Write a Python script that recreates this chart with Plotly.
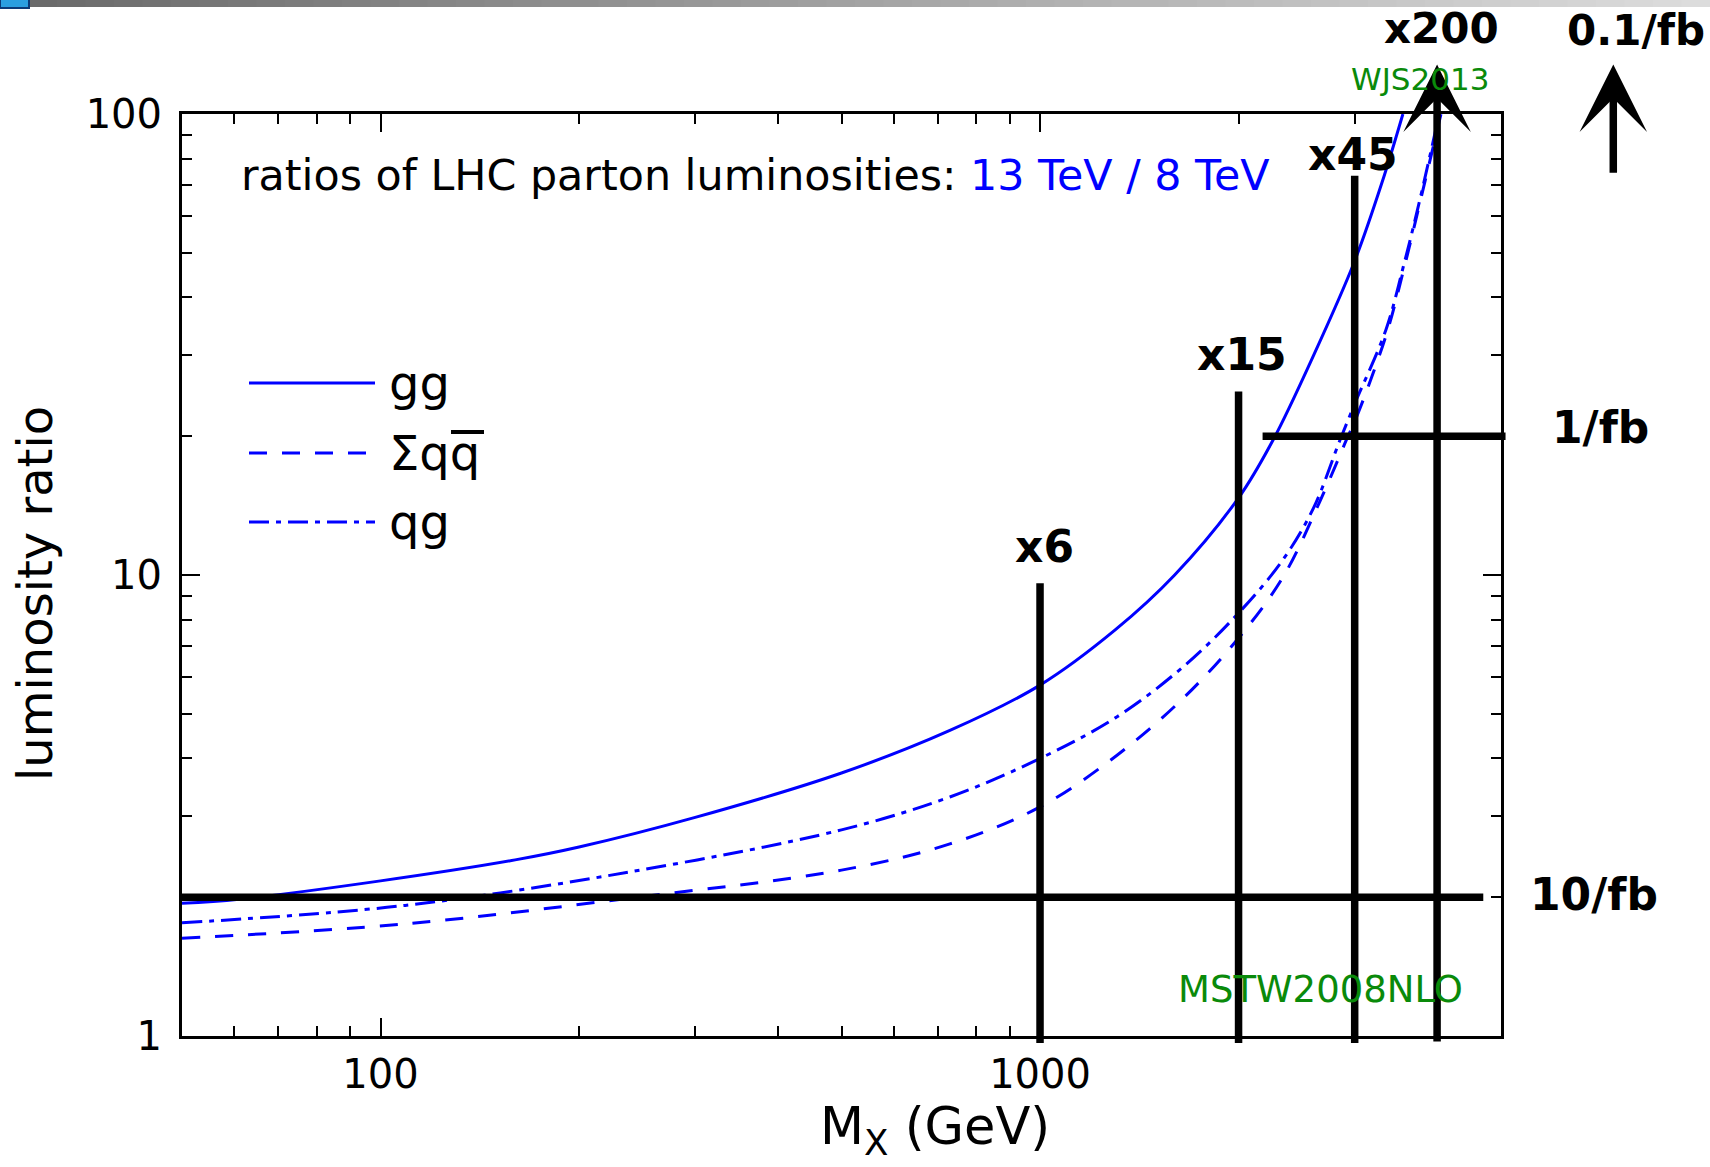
import math
import plotly.graph_objects as go

# ---------------- data ----------------
mass_gg = [50, 61, 100, 160, 200, 300, 500, 730, 1000, 1300, 1600, 2000, 2255, 2600, 3000, 3300, 3550]
ratio_gg = [1.94, 1.98, 2.17, 2.41, 2.57, 2.98, 3.72, 4.6, 5.77, 7.6, 10.0, 14.7, 19.6, 30.0, 48.0, 71, 100]

mass_qq = [50, 109, 245, 500, 730, 1000, 1307, 1648, 2000, 2336, 2660, 2931, 3000, 3345, 3560, 3765, 4055]
ratio_qq = [1.63, 1.75, 2.0, 2.29, 2.61, 3.14, 4.06, 5.4, 7.3, 9.9, 14.5, 20, 21.5, 33, 46, 64, 100]

mass_qg = [50, 109, 239, 500, 730, 1000, 1307, 1648, 2000, 2336, 2600, 2845, 3000, 3345, 3560, 3765, 4030]
ratio_qg = [1.76, 1.92, 2.27, 2.8, 3.30, 4.0, 4.92, 6.32, 8.27, 10.8, 14.0, 19.5, 23.5, 34, 47, 65, 100]

series_names = ["gg", "Σqq", "qg"]

# hand-drawn annotations
mark_mass = [1000, 2000, 3000]
mark_top = [9.6, 25.0, 73.5]
mark_labels = ["x6", "x15", "x45"]
arrow_mass = 4000
arrow_top = 128
arrow_label = "x200"
lumi_10fb_level = 2.0
lumi_10fb_span = [50, 4700]
lumi_1fb_level = 20.0
lumi_1fb_span = [2175, 5080]
lumi_01fb_mass = 7400
lumi_01fb_span = [74, 128]
lumi_labels = ["10/fb", "1/fb", "0.1/fb"]

x_major = [100, 1000]
x_minor = [60, 70, 80, 90, 200, 300, 400, 500, 600, 700, 800, 900, 2000, 3000, 4000]
y_major = [1, 10, 100]
y_minor = [2, 3, 4, 5, 6, 7, 8, 9, 20, 30, 40, 50, 60, 70, 80, 90]

# ---------------- geometry ----------------
W, H = 1710, 1167
ML, MR, MT, MB = 182, 209, 114, 131
PW = W - ML - MR
PH = H - MT - MB
XR = [math.log10(50), math.log10(5000)]
YR = [0, 2]


def px2x(px):
    return (px - ML) / PW


def py2y(py):
    return (H - MB - py) / PH


def d2x(v):
    return (math.log10(v) - XR[0]) / (XR[1] - XR[0])


def d2y(v):
    return (math.log10(v) - YR[0]) / (YR[1] - YR[0])


BLUE = "#0000ff"
GREEN = "#0a8a0a"
FONT = "DejaVu Sans"
HAND_W = 7.5

fig = go.Figure()

fig.add_trace(go.Scatter(x=mass_gg, y=ratio_gg, mode="lines", line=dict(color=BLUE, width=3, shape="spline"),
                         showlegend=False))
fig.add_trace(go.Scatter(x=mass_qq, y=ratio_qq, mode="lines",
                         line=dict(color=BLUE, width=3, dash="18px,15px", shape="spline"), showlegend=False))
fig.add_trace(go.Scatter(x=mass_qg, y=ratio_qg, mode="lines",
                         line=dict(color=BLUE, width=3, dash="20px,7px,5px,7px", shape="spline"), showlegend=False))

annotations = []
shapes = []

# hand-drawn black lines (paper coordinates derived from data values)
for m, t in zip(mark_mass, mark_top):
    shapes.append(dict(type="line", xref="paper", yref="paper", x0=d2x(m), x1=d2x(m), y0=py2y(1043),
                       y1=d2y(t), line=dict(color="black", width=HAND_W)))
shapes.append(dict(type="line", xref="paper", yref="paper", x0=d2x(lumi_10fb_span[0]), x1=d2x(lumi_10fb_span[1]),
                   y0=d2y(lumi_10fb_level), y1=d2y(lumi_10fb_level), line=dict(color="black", width=HAND_W)))
shapes.append(dict(type="line", xref="paper", yref="paper", x0=d2x(lumi_1fb_span[0]), x1=d2x(lumi_1fb_span[1]),
                   y0=d2y(lumi_1fb_level), y1=d2y(lumi_1fb_level), line=dict(color="black", width=HAND_W)))

# x200 arrow along M = 4000
annotations.append(dict(x=d2x(arrow_mass), y=d2y(arrow_top), xref="paper", yref="paper",
                        ax=0, ay=d2y(arrow_top) * PH + (1043 - (H - MB)), axref="pixel", ayref="pixel", text="",
                        showarrow=True, arrowhead=3, arrowsize=1.5, arrowwidth=HAND_W, arrowcolor="black"))
# 0.1/fb arrow (outside the axes)
annotations.append(dict(x=d2x(lumi_01fb_mass), y=d2y(lumi_01fb_span[1]), xref="paper", yref="paper",
                        ax=0, ay=(d2y(lumi_01fb_span[1]) - d2y(lumi_01fb_span[0])) * PH, axref="pixel",
                        ayref="pixel", text="", showarrow=True, arrowhead=3, arrowsize=1.5, arrowwidth=HAND_W,
                        arrowcolor="black"))

hand_font = dict(family=FONT, size=44, color="black")
label_pos = [(1044, 546), (1242, 354), (1353, 154)]
for lab, (lx, ly) in zip(mark_labels, label_pos):
    annotations.append(dict(x=px2x(lx), y=py2y(ly), xref="paper", yref="paper", text="<b>%s</b>" % lab,
                            showarrow=False, font=hand_font, xanchor="center", yanchor="middle"))
annotations.append(dict(x=px2x(1441), y=py2y(28), xref="paper", yref="paper", text="<b>%s</b>" % arrow_label,
                        showarrow=False, font=dict(family=FONT, size=42, color="black"), xanchor="center",
                        yanchor="middle"))
for lab, (lx, ly) in zip(lumi_labels, [(1594, 894), (1600, 428), (1636, 30)]):
    annotations.append(dict(x=px2x(lx), y=py2y(ly), xref="paper", yref="paper", text="<b>%s</b>" % lab,
                            showarrow=False, font=hand_font if lab != "0.1/fb" else dict(family=FONT, size=42,
                                                                                          color="black"),
                            xanchor="center", yanchor="middle"))

# title text
annotations.append(dict(x=px2x(239), y=py2y(175), xref="paper", yref="paper", xanchor="left", yanchor="middle",
                        showarrow=False,
                        text="ratios of LHC parton luminosities: <span style='color:#0000ff'>13 TeV / 8 TeV</span>",
                        font=dict(family=FONT, size=42.8, color="black")))

# green labels
annotations.append(dict(x=px2x(1420), y=py2y(79), xref="paper", yref="paper", text="WJS2013", showarrow=False,
                        font=dict(family=FONT, size=31, color=GREEN), xanchor="center", yanchor="middle"))
annotations.append(dict(x=px2x(1320), y=py2y(989), xref="paper", yref="paper", text="MSTW2008NLO",
                        showarrow=False, font=dict(family=FONT, size=37, color=GREEN), xanchor="center",
                        yanchor="middle"))

# axis titles
annotations.append(dict(x=px2x(935), y=py2y(1130), xref="paper", yref="paper", text="M<sub>X</sub> (GeV)",
                        showarrow=False, font=dict(family=FONT, size=51, color="black"), xanchor="center",
                        yanchor="middle"))
annotations.append(dict(x=px2x(35), y=py2y(594), xref="paper", yref="paper", text="luminosity ratio",
                        showarrow=False, textangle=-90, font=dict(family=FONT, size=48, color="black"),
                        xanchor="center", yanchor="middle"))

# manual legend
legend_dash = ["solid", "18px,15px", "20px,7px,5px,7px"]
legend_y = [383, 453, 522]
for name, dsh, ly in zip(series_names, legend_dash, legend_y):
    shapes.append(dict(type="line", xref="paper", yref="paper", x0=px2x(249), x1=px2x(375), y0=py2y(ly),
                       y1=py2y(ly), line=dict(color=BLUE, width=3, dash=dsh)))
    annotations.append(dict(x=px2x(387), y=py2y(ly), xref="paper", yref="paper", text=name, showarrow=False,
                            font=dict(family=FONT, size=48, color="black"), xanchor="left", yanchor="middle"))
# bar over the anti-quark
shapes.append(dict(type="line", xref="paper", yref="paper", x0=px2x(451), x1=px2x(484), y0=py2y(432),
                   y1=py2y(432), line=dict(color="black", width=4)))

# slide header gradient bar
n_steps = 60
c0, c1 = (105, 105, 105), (220, 220, 220)
for i in range(n_steps):
    f = i / (n_steps - 1)
    col = "rgb(%d,%d,%d)" % tuple(int(a + (b - a) * f) for a, b in zip(c0, c1))
    shapes.append(dict(type="rect", xref="paper", yref="paper", x0=px2x(i * W / n_steps),
                       x1=px2x((i + 1) * W / n_steps + 1), y0=py2y(7), y1=py2y(0), fillcolor=col,
                       line=dict(width=0), layer="below"))
shapes.append(dict(type="rect", xref="paper", yref="paper", x0=px2x(0), x1=px2x(29), y0=py2y(8), y1=py2y(-2),
                   fillcolor="#2a9ee0", line=dict(color="#0b3a78", width=2)))

tick_font = dict(family=FONT, size=40, color="black")
axis_common = dict(type="log", showline=True, linewidth=3, linecolor="black", mirror="ticks", ticks="inside",
                   ticklen=18, tickwidth=2, tickcolor="black", showgrid=False, zeroline=False,
                   tickfont=tick_font)

fig.update_layout(
    width=W, height=H,
    margin=dict(l=ML, r=MR, t=MT, b=MB),
    paper_bgcolor="white", plot_bgcolor="white",
    xaxis=dict(range=XR, tickvals=x_major, ticktext=[str(v) for v in x_major], ticklabelstandoff=1,
               minor=dict(tickvals=x_minor, ticks="inside", ticklen=10, tickwidth=2, tickcolor="black",
                          showgrid=False), **axis_common),
    yaxis=dict(range=YR, tickvals=y_major, ticktext=[str(v) for v in y_major], ticklabelstandoff=9,
               minor=dict(tickvals=y_minor, ticks="inside", ticklen=10, tickwidth=2, tickcolor="black",
                          showgrid=False), **axis_common),
    annotations=annotations,
    shapes=shapes,
    showlegend=False,
)

fig.write_html("out.html")
